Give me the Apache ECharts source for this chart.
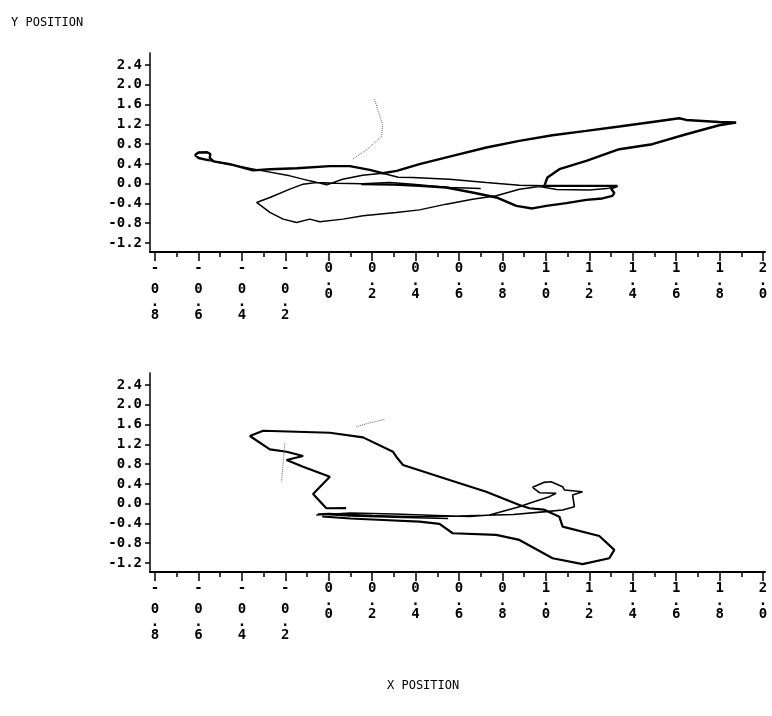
<!DOCTYPE html>
<html><head><meta charset="utf-8">
<script src="https://cdn.jsdelivr.net/npm/echarts@6/dist/echarts.min.js"></script>
<style>html,body{margin:0;padding:0;background:#fff}#c{width:772px;height:716px}</style>
</head><body><div id="c"></div>
<script>
// ---- data ----
const X_TICKS = [-0.8,-0.6,-0.4,-0.2,0.0,0.2,0.4,0.6,0.8,1.0,1.2,1.4,1.6,1.8,2.0];
const X_MINOR = [-0.7,-0.5,-0.3,-0.1,0.1,0.3,0.5,0.7,0.9,1.1,1.3,1.5,1.7,1.9];
const Y_TICKS = [-1.2,-0.8,-0.4,0.0,0.4,0.8,1.2,1.6,2.0,2.4];

const topThick = [
[-0.55,0.47],[-0.60,0.52],[-0.615,0.58],[-0.60,0.63],[-0.56,0.635],[-0.545,0.60],[-0.548,0.52],[-0.53,0.45],
[-0.455,0.394],[-0.40,0.33],[-0.349,0.27],[-0.271,0.293],[-0.147,0.313],[0.005,0.354],[0.097,0.354],[0.189,0.28],
[0.248,0.212],[0.313,0.259],[0.418,0.394],[0.57,0.562],[0.726,0.731],[0.878,0.865],[1.03,0.98],[1.186,1.067],
[1.338,1.156],[1.49,1.248],[1.614,1.323],[1.646,1.289],[1.798,1.248],[1.876,1.236],[1.798,1.182],[1.646,1.0],
[1.49,0.798],[1.338,0.697],[1.186,0.461],[1.062,0.293],[1.007,0.125],[0.993,-0.044],[1.154,-0.044],[1.329,-0.044],
[1.30,-0.10],[1.315,-0.19],[1.306,-0.246],[1.26,-0.299],[1.186,-0.327],[1.094,-0.394],[1.002,-0.448],[0.938,-0.501],
[0.864,-0.448],[0.772,-0.279],[0.662,-0.178],[0.541,-0.077],[0.418,-0.044],[0.30,-0.02],[0.15,-0.01]
];
const topThin = [
[-0.55,0.47],[-0.303,0.259],[-0.179,0.158],[-0.087,0.057],[-0.009,-0.024],[0.064,0.091],[0.156,0.172],[0.248,0.212],
[0.32,0.13],[0.386,0.125],[0.556,0.091],[0.725,0.024],[0.878,-0.03],[1.0,-0.044],[1.2,-0.05],[1.33,-0.05],
[1.28,-0.10],[1.20,-0.13],[1.05,-0.12],[0.97,-0.055],[0.878,-0.111],[0.772,-0.246],[0.662,-0.313],[0.541,-0.414],
[0.418,-0.53],[0.311,-0.582],[0.158,-0.65],[0.066,-0.717],[-0.041,-0.772],[-0.087,-0.717],[-0.148,-0.784],[-0.21,-0.717],
[-0.271,-0.582],[-0.332,-0.38],[-0.271,-0.279],[-0.179,-0.111],[-0.118,-0.01],[-0.057,0.024],[0.035,0.01],[0.158,-0.004],
[0.28,0.024],[0.388,-0.01],[0.464,-0.044],[0.556,-0.077],[0.70,-0.10]
];
const topDots = [[0.211,1.707],[0.225,1.5],[0.248,1.2],[0.244,0.96],[0.179,0.697],[0.11,0.495]];

const bottomThick = [
[0.08,-0.09],[-0.011,-0.093],[-0.072,0.196],[0.005,0.545],[-0.118,0.747],[-0.194,0.883],[-0.118,0.964],
[-0.194,1.05],[-0.271,1.099],[-0.363,1.368],[-0.302,1.475],[0.005,1.434],[0.158,1.341],[0.296,1.05],[0.311,0.95],
[0.342,0.782],[0.556,0.479],[0.725,0.242],[0.878,-0.026],[0.924,-0.093],[0.99,-0.12],[1.062,-0.263],[1.077,-0.465],
[1.246,-0.653],[1.315,-0.935],[1.292,-1.103],[1.169,-1.224],[1.031,-1.103],[0.878,-0.733],[0.771,-0.632],[0.571,-0.598],
[0.51,-0.41],[0.418,-0.364],[0.25,-0.33],[0.10,-0.30],[-0.03,-0.26]
];
const bottomThin = [
[-0.057,-0.228],[0.1,-0.19],[0.3,-0.21],[0.5,-0.24],[0.65,-0.26],[0.74,-0.23],[0.878,-0.061],[0.924,0.008],
[1.016,0.142],[1.047,0.21],[0.97,0.222],[0.939,0.331],[0.99,0.43],[1.024,0.444],[1.077,0.343],[1.085,0.277],
[1.169,0.242],[1.123,0.176],[1.131,-0.061],[1.077,-0.127],[1.0,-0.16],[0.85,-0.22],[0.6,-0.25],[0.4,-0.265],
[0.2,-0.24],[0.0,-0.20],[-0.05,-0.21],[0.1,-0.25],[0.35,-0.28],[0.55,-0.30]
];
const bottomDotsA = [[0.127,1.556],[0.189,1.636],[0.258,1.705]];
const bottomDotsB = [[-0.202,1.22],[-0.21,0.816],[-0.217,0.444]];

// ---- chart ----
const X_MIN = -0.823, X_MAX = 2.009, Y_MIN = -1.382, Y_MAX = 2.643;
const FONT = 'DejaVu Sans Mono';
function xfmt(v){
  const s = v.toFixed(1);
  const parts = [];
  for (const ch of s) parts.push(ch === '.' ? '{d|.}' : '{c|' + ch + '}');
  return parts.join('\n');
}
const richX = {
  c:{fontFamily:FONT,fontSize:14,fontWeight:'bold',color:'#000',lineHeight:21},
  d:{fontFamily:FONT,fontSize:14,fontWeight:'bold',color:'#000',lineHeight:5}
};
function xAxes(g){
  return [
    {type:'value',gridIndex:g,min:X_MIN,max:X_MAX,position:'bottom',offset:0,
     axisLine:{show:true,onZero:false,lineStyle:{color:'#000',width:2}},
     splitLine:{show:false},
     axisTick:{show:true,length:9,customValues:X_TICKS,lineStyle:{color:'#000',width:1.5}},
     axisLabel:{show:true,margin:6,customValues:X_TICKS,formatter:xfmt,rich:richX}},
    {type:'value',gridIndex:g,min:X_MIN,max:X_MAX,position:'bottom',offset:0,
     axisLine:{show:false,onZero:false},splitLine:{show:false},
     axisTick:{show:true,length:5,customValues:X_MINOR,lineStyle:{color:'#000',width:1.5}},
     axisLabel:{show:false}}
  ];
}
function yAxis(g){
  return {type:'value',gridIndex:g,min:Y_MIN,max:Y_MAX,position:'left',
    axisLine:{show:true,onZero:false,lineStyle:{color:'#000',width:1.5}},
    splitLine:{show:false},
    axisTick:{show:true,length:5,customValues:Y_TICKS,lineStyle:{color:'#000',width:1.5}},
    axisLabel:{show:true,margin:8,customValues:Y_TICKS,formatter:v=>v.toFixed(1),
      fontFamily:FONT,fontSize:14,fontWeight:'bold',color:'#000'}};
}
function line(data,xi,yi,w,dotted){
  return {type:'line',data,xAxisIndex:xi,yAxisIndex:yi,symbol:'none',showSymbol:false,silent:true,
    lineStyle:{color:dotted?'#666':'#000',width:w,type:dotted?'dotted':'solid'}};
}
const chart = echarts.init(document.getElementById('c'));
chart.setOption({
  animation:false,
  backgroundColor:'#fff',
  title:[
    {text:'Y POSITION',left:6,top:12,textStyle:{fontFamily:FONT,fontSize:12,fontWeight:'normal',color:'#000'}},
    {text:'X POSITION',left:382,top:675,textStyle:{fontFamily:FONT,fontSize:12,fontWeight:'normal',color:'#000'}}
  ],
  grid:[
    {left:150,top:53,width:615,height:199,outerBoundsMode:'none'},
    {left:150,top:373,width:615,height:199,outerBoundsMode:'none'}
  ],
  xAxis:[...xAxes(0),...xAxes(1)],
  yAxis:[yAxis(0),yAxis(1)],
  series:[
    line(topThick,0,0,2.4,false),
    line(topThin,0,0,1.5,false),
    line(topDots,0,0,1,true),
    line(bottomThick,2,1,2.2,false),
    line(bottomThin,2,1,1.6,false),
    line(bottomDotsA,2,1,1,true),
    line(bottomDotsB,2,1,1,true)
  ]
});
</script></body></html>
